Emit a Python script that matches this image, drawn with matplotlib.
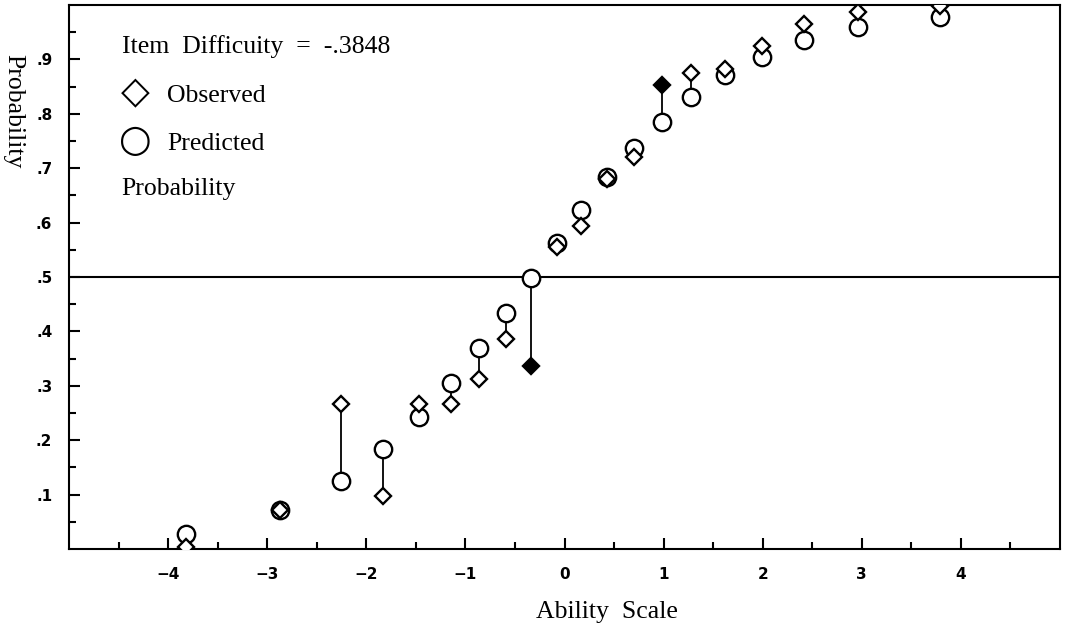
import matplotlib.pyplot as plt
from matplotlib.ticker import FixedLocator, FixedFormatter

# values
ability = [-3.82, -2.87, -2.26, -1.83, -1.47, -1.15, -0.86, -0.59, -0.34, -0.08,
           0.17, 0.43, 0.70, 0.98, 1.28, 1.62, 1.99, 2.42, 2.96, 3.79]
observed = [0.003, 0.072, 0.266, 0.097, 0.267, 0.266, 0.313, 0.386, 0.337, 0.555,
            0.594, 0.680, 0.720, 0.853, 0.875, 0.883, 0.925, 0.965, 0.988, 0.998]
predicted = [0.028, 0.072, 0.125, 0.183, 0.242, 0.305, 0.369, 0.434, 0.498, 0.563,
             0.623, 0.683, 0.737, 0.785, 0.830, 0.871, 0.904, 0.935, 0.960, 0.978]
misfit = [False] * 8 + [True] + [False] * 4 + [True] + [False] * 6

x_ticks = [-4, -3, -2, -1, 0, 1, 2, 3, 4]
x_labels = ['\u22124', '\u22123', '\u22122', '\u22121', '0', '1', '2', '3', '4']
y_ticks = [0.1, 0.2, 0.3, 0.4, 0.5, 0.6, 0.7, 0.8, 0.9]
y_labels = ['.1', '.2', '.3', '.4', '.5', '.6', '.7', '.8', '.9']
title_text = 'Item  Difficuity  =  -.3848'

serif = ['Liberation Serif', 'DejaVu Serif', 'DejaVu Sans']
fs = 18.5

fig = plt.figure(figsize=(10.7, 6.31), dpi=100)
ax = fig.add_axes([69 / 1070, 1 - 549 / 631, (1060 - 69) / 1070, (549 - 5) / 631])
ax.set_xlim(-5, 5)
ax.set_ylim(0, 1.0)

for s in ax.spines.values():
    s.set_linewidth(1.5)

# half-probability reference line
ax.axhline(0.5, color='black', lw=1.5)

# residual lines between observed and predicted
ax.vlines(ability, observed, predicted, color='black', lw=1.3, zorder=2)

for xv, ov, pv, bad in zip(ability, observed, predicted, misfit):
    ax.plot(xv, pv, marker='o', ms=12.5, mfc='white', mec='black', mew=1.7, zorder=3)
    ax.plot(xv, ov, marker='D', ms=8.5, mfc='black' if bad else 'white',
            mec='black', mew=1.7, zorder=4)

ax.xaxis.set_major_locator(FixedLocator(x_ticks))
ax.xaxis.set_major_formatter(FixedFormatter(x_labels))
ax.xaxis.set_minor_locator(FixedLocator([t + 0.5 for t in range(-5, 5)]))
ax.yaxis.set_major_locator(FixedLocator(y_ticks))
ax.yaxis.set_major_formatter(FixedFormatter(y_labels))
ax.yaxis.set_minor_locator(FixedLocator([t / 100 for t in range(5, 100, 10)]))

ax.tick_params(which='both', direction='in', top=False, right=False, width=1.5)
ax.tick_params(which='major', length=8)
ax.tick_params(which='minor', length=5)
ax.tick_params(axis='x', which='major', pad=13, labelsize=11)
ax.tick_params(axis='y', which='major', pad=12, labelsize=11)
for lab in ax.get_xticklabels() + ax.get_yticklabels():
    lab.set_fontweight('bold')

# in-plot key
ax.text(-4.47, 0.912, title_text, family=serif, fontsize=fs, va='baseline')
ax.text(-4.33, 0.838, '\u25c7', family=['DejaVu Sans'], fontsize=27,
        ha='center', va='center')
ax.text(-4.01, 0.822, 'Observed', family=serif, fontsize=fs, va='baseline')
ax.text(-4.33, 0.750, '\u25cb', family=['DejaVu Sans'], fontsize=27,
        ha='center', va='center')
ax.text(-4.01, 0.733, 'Predicted', family=serif, fontsize=fs, va='baseline')
ax.text(-4.47, 0.651, 'Probability', family=serif, fontsize=fs, va='baseline')

fig.text(13 / 1070, 1 - 111 / 631, 'Probability', family=serif, fontsize=fs,
         rotation=270, ha='center', va='center')
fig.text(607 / 1070, 1 - 612 / 631, 'Ability  Scale', family=serif, fontsize=fs,
         ha='center', va='center')

fig.savefig('out.png', dpi=100)
